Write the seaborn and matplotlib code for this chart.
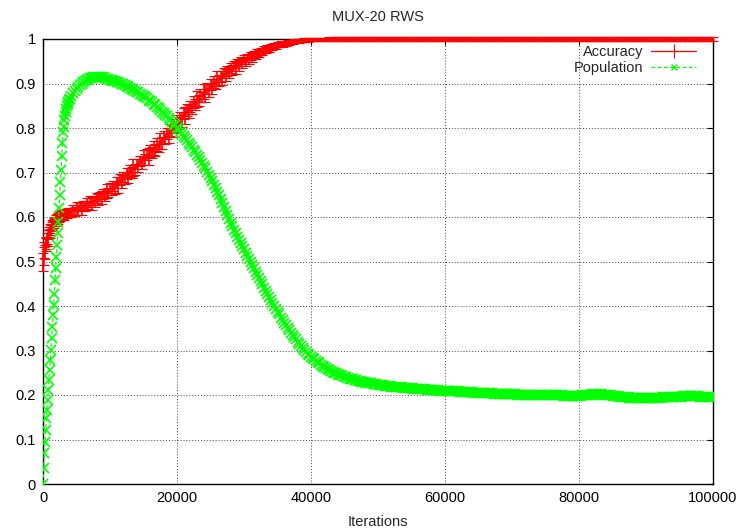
import numpy as np
import pandas as pd
import matplotlib
matplotlib.use("Agg")
import matplotlib.pyplot as plt
import seaborn as sns
from matplotlib.lines import Line2D

# ---------------- data ----------------
# iterations 0..4000 every 100, then 4250..100000 every 250
iter_early = list(range(0, 4001, 100))
iter_late = list(range(4250, 100001, 250))
iterations = iter_early + iter_late

pop_early = [0.000, 0.035, 0.069, 0.095, 0.121, 0.148, 0.166, 0.189, 0.211, 0.234,
             0.256, 0.279, 0.301, 0.328, 0.353, 0.380, 0.402, 0.428, 0.458, 0.485,
             0.511, 0.537, 0.563, 0.589, 0.620, 0.649, 0.679, 0.705, 0.737, 0.766,
             0.792, 0.803, 0.818, 0.828, 0.836, 0.843, 0.849, 0.854, 0.858, 0.862, 0.866]
pop_late = [
    0.872, 0.878, 0.883, 0.888, 0.892, 0.896, 0.900, 0.903,   # 4250-6000
    0.906, 0.908, 0.910, 0.912, 0.913, 0.914, 0.915, 0.915,   # 6250-8000
    0.915, 0.915, 0.915, 0.914, 0.913, 0.911, 0.910, 0.908,   # 8250-10000
    0.907, 0.906, 0.905, 0.904, 0.903, 0.901, 0.900, 0.898,   # 10250-12000
    0.896, 0.894, 0.892, 0.890, 0.888, 0.886, 0.884, 0.882,   # 12250-14000
    0.880, 0.877, 0.875, 0.872, 0.870, 0.867, 0.864, 0.861,   # 14250-16000
    0.858, 0.855, 0.852, 0.848, 0.845, 0.841, 0.837, 0.833,   # 16250-18000
    0.830, 0.826, 0.822, 0.818, 0.814, 0.810, 0.806, 0.801,   # 18250-20000
    0.797, 0.792, 0.787, 0.782, 0.777, 0.772, 0.767, 0.762,   # 20250-22000
    0.757, 0.751, 0.746, 0.740, 0.734, 0.728, 0.722, 0.715,   # 22250-24000
    0.709, 0.702, 0.695, 0.688, 0.681, 0.673, 0.665, 0.657,   # 24250-26000
    0.649, 0.640, 0.631, 0.622, 0.613, 0.604, 0.596, 0.587,   # 26250-28000
    0.579, 0.571, 0.564, 0.556, 0.549, 0.541, 0.534, 0.527,   # 28250-30000
    0.520, 0.513, 0.506, 0.499, 0.492, 0.485, 0.477, 0.470,   # 30250-32000
    0.463, 0.456, 0.449, 0.441, 0.434, 0.427, 0.420, 0.413,   # 32250-34000
    0.407, 0.400, 0.394, 0.387, 0.381, 0.374, 0.368, 0.362,   # 34250-36000
    0.357, 0.351, 0.346, 0.340, 0.335, 0.330, 0.325, 0.320,   # 36250-38000
    0.315, 0.310, 0.306, 0.301, 0.297, 0.293, 0.290, 0.286,   # 38250-40000
    0.283, 0.280, 0.277, 0.274, 0.271, 0.268, 0.266, 0.263,   # 40250-42000
    0.261, 0.258, 0.256, 0.254, 0.252, 0.250, 0.249, 0.247,   # 42250-44000
    0.245, 0.244, 0.243, 0.241, 0.240, 0.238, 0.237, 0.236,   # 44250-46000
    0.235, 0.234, 0.233, 0.232, 0.231, 0.230, 0.230, 0.229,   # 46250-48000
    0.228, 0.227, 0.227, 0.226, 0.225, 0.225, 0.224, 0.223,   # 48250-50000
    0.223, 0.222, 0.222, 0.221, 0.221, 0.220, 0.220, 0.219,   # 50250-52000
    0.219, 0.218, 0.218, 0.217, 0.217, 0.217, 0.216, 0.216,   # 52250-54000
    0.216, 0.215, 0.215, 0.215, 0.214, 0.214, 0.214, 0.214,   # 54250-56000
    0.213, 0.213, 0.213, 0.213, 0.212, 0.212, 0.212, 0.212,   # 56250-58000
    0.211, 0.211, 0.211, 0.211, 0.210, 0.210, 0.210, 0.210,   # 58250-60000
    0.209, 0.209, 0.209, 0.209, 0.208, 0.208, 0.208, 0.208,   # 60250-62000
    0.207, 0.207, 0.207, 0.207, 0.206, 0.206, 0.206, 0.206,   # 62250-64000
    0.205, 0.205, 0.205, 0.205, 0.205, 0.205, 0.204, 0.204,   # 64250-66000
    0.204, 0.204, 0.204, 0.204, 0.203, 0.203, 0.203, 0.203,   # 66250-68000
    0.203, 0.203, 0.202, 0.202, 0.202, 0.202, 0.202, 0.202,   # 68250-70000
    0.202, 0.202, 0.201, 0.201, 0.201, 0.201, 0.201, 0.201,   # 70250-72000
    0.201, 0.201, 0.200, 0.200, 0.200, 0.200, 0.200, 0.200,   # 72250-74000
    0.200, 0.200, 0.200, 0.200, 0.199, 0.199, 0.199, 0.199,   # 74250-76000
    0.199, 0.199, 0.199, 0.199, 0.199, 0.199, 0.198, 0.198,   # 76250-78000
    0.198, 0.198, 0.198, 0.198, 0.198, 0.198, 0.198, 0.198,   # 78250-80000
    0.198, 0.199, 0.199, 0.200, 0.200, 0.201, 0.201, 0.202,   # 80250-82000
    0.202, 0.202, 0.202, 0.202, 0.202, 0.201, 0.201, 0.200,   # 82250-84000
    0.200, 0.199, 0.199, 0.198, 0.198, 0.197, 0.197, 0.196,   # 84250-86000
    0.196, 0.195, 0.195, 0.195, 0.195, 0.194, 0.194, 0.194,   # 86250-88000
    0.194, 0.194, 0.194, 0.193, 0.193, 0.193, 0.193, 0.193,   # 88250-90000
    0.193, 0.193, 0.193, 0.193, 0.193, 0.194, 0.194, 0.194,   # 90250-92000
    0.194, 0.195, 0.195, 0.195, 0.195, 0.196, 0.196, 0.196,   # 92250-94000
    0.196, 0.196, 0.196, 0.196, 0.196, 0.197, 0.197, 0.197,   # 94250-96000
    0.197, 0.197, 0.197, 0.197, 0.197, 0.197, 0.197, 0.196,   # 96250-98000
    0.196, 0.196, 0.196, 0.196, 0.196, 0.196, 0.196, 0.196,   # 98250-100000
]
population = pop_early + pop_late

acc_early = [0.498, 0.512, 0.525, 0.521, 0.538, 0.541, 0.552, 0.549, 0.561, 0.566,
             0.563, 0.574, 0.571, 0.580, 0.584, 0.579, 0.588, 0.586, 0.592, 0.589,
             0.595, 0.598, 0.594, 0.600, 0.597, 0.603, 0.601, 0.606, 0.602, 0.607,
             0.605, 0.609, 0.604, 0.610, 0.608, 0.611, 0.607, 0.613, 0.610, 0.612, 0.609]
acc_late = [
    0.610, 0.616, 0.613, 0.619, 0.615, 0.622, 0.618, 0.625,   # 4250-6000
    0.624, 0.630, 0.627, 0.635, 0.631, 0.638, 0.635, 0.643,   # 6250-8000
    0.640, 0.647, 0.644, 0.652, 0.649, 0.658, 0.655, 0.665,   # 8250-10000
    0.662, 0.670, 0.667, 0.677, 0.673, 0.684, 0.680, 0.690,   # 10250-12000
    0.688, 0.697, 0.693, 0.704, 0.700, 0.711, 0.707, 0.719,   # 12250-14000
    0.716, 0.726, 0.722, 0.734, 0.729, 0.740, 0.736, 0.748,   # 14250-16000
    0.745, 0.755, 0.751, 0.763, 0.758, 0.770, 0.766, 0.779,   # 16250-18000
    0.776, 0.788, 0.783, 0.796, 0.792, 0.805, 0.801, 0.814,   # 18250-20000
    0.811, 0.823, 0.819, 0.832, 0.828, 0.841, 0.837, 0.849,   # 20250-22000
    0.846, 0.858, 0.853, 0.866, 0.862, 0.873, 0.870, 0.882,   # 22250-24000
    0.879, 0.889, 0.885, 0.897, 0.893, 0.903, 0.899, 0.911,   # 24250-26000
    0.907, 0.916, 0.912, 0.923, 0.919, 0.928, 0.925, 0.934,   # 26250-28000
    0.930, 0.939, 0.935, 0.944, 0.941, 0.949, 0.946, 0.953,   # 28250-30000
    0.950, 0.957, 0.955, 0.962, 0.959, 0.966, 0.963, 0.970,   # 30250-32000
    0.968, 0.973, 0.971, 0.977, 0.975, 0.980, 0.978, 0.983,   # 32250-34000
    0.981, 0.985, 0.983, 0.988, 0.986, 0.990, 0.988, 0.991,   # 34250-36000
    0.990, 0.993, 0.992, 0.994, 0.993, 0.995, 0.995, 0.996,   # 36250-38000
    0.996, 0.997, 0.997, 0.998, 0.998, 0.998, 0.999, 0.999,   # 38250-40000
    0.999, 0.999, 0.999, 0.999, 0.999, 0.999, 0.999, 0.999,   # 40250-42000
    0.999, 0.999, 1.000, 0.999, 1.000, 1.000, 1.000, 1.000,   # 42250-44000
    1.000, 1.000, 1.000, 1.000, 1.000, 1.000, 1.000, 1.000,   # 44250-46000
    1.000, 1.000, 1.000, 1.000, 1.000, 1.000, 1.000, 1.000,   # 46250-48000
    1.000, 1.000, 1.000, 1.000, 1.000, 1.000, 1.000, 1.000,   # 48250-50000
    1.000, 1.000, 1.000, 1.000, 1.000, 1.000, 1.000, 1.000,   # 50250-52000
    1.000, 1.000, 1.000, 1.000, 1.000, 1.000, 1.000, 1.000,   # 52250-54000
    1.000, 1.000, 1.000, 1.000, 1.000, 1.000, 1.000, 1.000,   # 54250-56000
    1.000, 1.000, 1.000, 1.000, 1.000, 1.000, 1.000, 1.000,   # 56250-58000
    1.000, 1.000, 1.000, 1.000, 1.000, 1.000, 1.000, 1.000,   # 58250-60000
    1.000, 1.000, 1.000, 1.000, 1.000, 1.000, 1.000, 1.000,   # 60250-62000
    1.000, 1.000, 1.000, 1.000, 1.000, 1.000, 1.000, 1.000,   # 62250-64000
    1.000, 1.000, 1.000, 1.000, 1.000, 1.000, 1.000, 1.000,   # 64250-66000
    1.000, 1.000, 1.000, 1.000, 1.000, 1.000, 1.000, 1.000,   # 66250-68000
    1.000, 1.000, 1.000, 1.000, 1.000, 1.000, 1.000, 1.000,   # 68250-70000
    1.000, 1.000, 1.000, 1.000, 1.000, 1.000, 1.000, 1.000,   # 70250-72000
    1.000, 1.000, 1.000, 1.000, 1.000, 1.000, 1.000, 1.000,   # 72250-74000
    1.000, 1.000, 1.000, 1.000, 1.000, 1.000, 1.000, 1.000,   # 74250-76000
    1.000, 1.000, 1.000, 1.000, 1.000, 1.000, 1.000, 1.000,   # 76250-78000
    1.000, 1.000, 1.000, 1.000, 1.000, 1.000, 1.000, 1.000,   # 78250-80000
    1.000, 1.000, 1.000, 1.000, 1.000, 1.000, 1.000, 1.000,   # 80250-82000
    1.000, 1.000, 1.000, 1.000, 1.000, 1.000, 1.000, 1.000,   # 82250-84000
    1.000, 1.000, 1.000, 1.000, 1.000, 1.000, 1.000, 1.000,   # 84250-86000
    1.000, 1.000, 1.000, 1.000, 1.000, 1.000, 1.000, 1.000,   # 86250-88000
    1.000, 1.000, 1.000, 1.000, 1.000, 1.000, 1.000, 1.000,   # 88250-90000
    1.000, 1.000, 1.000, 1.000, 1.000, 1.000, 1.000, 1.000,   # 90250-92000
    1.000, 1.000, 1.000, 1.000, 1.000, 1.000, 1.000, 1.000,   # 92250-94000
    1.000, 1.000, 1.000, 1.000, 1.000, 1.000, 1.000, 1.000,   # 94250-96000
    1.000, 1.000, 1.000, 1.000, 1.000, 1.000, 1.000, 1.000,   # 96250-98000
    1.000, 1.000, 1.000, 1.000, 1.000, 1.000, 1.000, 1.000,   # 98250-100000
]
accuracy = acc_early + acc_late

err_early = [0.020, 0.020, 0.018, 0.016, 0.015, 0.013, 0.012, 0.014, 0.010, 0.012,
             0.011, 0.010, 0.012, 0.009, 0.010, 0.011, 0.009, 0.010, 0.008, 0.010,
             0.009, 0.008, 0.010, 0.008, 0.009, 0.008, 0.010, 0.007, 0.009, 0.008,
             0.009, 0.007, 0.010, 0.008, 0.009, 0.007, 0.010, 0.008, 0.009, 0.008, 0.009]
err_late = [
    0.009, 0.012, 0.010, 0.014, 0.011, 0.009, 0.013, 0.010,   # 4250-6000
    0.011, 0.013, 0.010, 0.012, 0.015, 0.010, 0.012, 0.011,   # 6250-8000
    0.012, 0.010, 0.014, 0.011, 0.013, 0.016, 0.011, 0.012,   # 8250-10000
    0.013, 0.011, 0.015, 0.012, 0.018, 0.012, 0.014, 0.011,   # 10250-12000
    0.014, 0.012, 0.016, 0.013, 0.012, 0.019, 0.013, 0.012,   # 12250-14000
    0.015, 0.012, 0.014, 0.017, 0.012, 0.013, 0.020, 0.013,   # 14250-16000
    0.012, 0.016, 0.013, 0.014, 0.012, 0.018, 0.013, 0.015,   # 16250-18000
    0.013, 0.012, 0.017, 0.014, 0.012, 0.015, 0.013, 0.016,   # 18250-20000
    0.014, 0.013, 0.016, 0.012, 0.019, 0.013, 0.014, 0.012,   # 20250-22000
    0.015, 0.013, 0.012, 0.018, 0.013, 0.015, 0.012, 0.016,   # 22250-24000
    0.020, 0.013, 0.015, 0.012, 0.017, 0.014, 0.012, 0.016,   # 24250-26000
    0.013, 0.012, 0.015, 0.011, 0.014, 0.012, 0.013, 0.011,   # 26250-28000
    0.012, 0.011, 0.013, 0.010, 0.012, 0.010, 0.011, 0.010,   # 28250-30000
    0.010, 0.009, 0.011, 0.009, 0.010, 0.008, 0.009, 0.008,   # 30250-32000
    0.008, 0.007, 0.008, 0.007, 0.007, 0.006, 0.007, 0.006,   # 32250-34000
    0.006, 0.006, 0.005, 0.006, 0.005, 0.005, 0.005, 0.005,   # 34250-36000
    0.005, 0.004, 0.005, 0.004, 0.004, 0.004, 0.004, 0.004,   # 36250-38000
    0.004, 0.004, 0.004, 0.004, 0.004, 0.004, 0.004, 0.004,   # 38250-40000
    0.004, 0.004, 0.004, 0.004, 0.004, 0.004, 0.004, 0.004,   # 40250-42000
    0.004, 0.004, 0.004, 0.004, 0.004, 0.004, 0.004, 0.004,   # 42250-44000
    0.004, 0.004, 0.004, 0.004, 0.004, 0.004, 0.004, 0.004,   # 44250-46000
    0.004, 0.004, 0.004, 0.004, 0.004, 0.004, 0.004, 0.004,   # 46250-48000
    0.004, 0.004, 0.004, 0.004, 0.004, 0.004, 0.004, 0.004,   # 48250-50000
    0.004, 0.004, 0.004, 0.004, 0.004, 0.004, 0.004, 0.004,   # 50250-52000
    0.004, 0.004, 0.004, 0.004, 0.004, 0.004, 0.004, 0.004,   # 52250-54000
    0.004, 0.004, 0.004, 0.004, 0.004, 0.004, 0.004, 0.004,   # 54250-56000
    0.004, 0.004, 0.004, 0.004, 0.004, 0.004, 0.004, 0.004,   # 56250-58000
    0.004, 0.004, 0.004, 0.004, 0.004, 0.004, 0.004, 0.004,   # 58250-60000
    0.004, 0.004, 0.004, 0.004, 0.004, 0.004, 0.004, 0.004,   # 60250-62000
    0.004, 0.004, 0.004, 0.004, 0.004, 0.004, 0.004, 0.004,   # 62250-64000
    0.004, 0.004, 0.004, 0.004, 0.004, 0.004, 0.004, 0.004,   # 64250-66000
    0.004, 0.004, 0.004, 0.004, 0.004, 0.004, 0.004, 0.004,   # 66250-68000
    0.004, 0.004, 0.004, 0.004, 0.004, 0.004, 0.004, 0.004,   # 68250-70000
    0.004, 0.004, 0.004, 0.004, 0.004, 0.004, 0.004, 0.004,   # 70250-72000
    0.004, 0.004, 0.004, 0.004, 0.004, 0.004, 0.004, 0.004,   # 72250-74000
    0.004, 0.004, 0.004, 0.004, 0.004, 0.004, 0.004, 0.004,   # 74250-76000
    0.004, 0.004, 0.004, 0.004, 0.004, 0.004, 0.004, 0.004,   # 76250-78000
    0.004, 0.004, 0.004, 0.004, 0.004, 0.004, 0.004, 0.004,   # 78250-80000
    0.004, 0.004, 0.004, 0.004, 0.004, 0.004, 0.004, 0.004,   # 80250-82000
    0.004, 0.004, 0.004, 0.004, 0.004, 0.004, 0.004, 0.004,   # 82250-84000
    0.004, 0.004, 0.004, 0.004, 0.004, 0.004, 0.004, 0.004,   # 84250-86000
    0.004, 0.004, 0.004, 0.004, 0.004, 0.004, 0.004, 0.004,   # 86250-88000
    0.004, 0.004, 0.004, 0.004, 0.004, 0.004, 0.004, 0.004,   # 88250-90000
    0.004, 0.004, 0.004, 0.004, 0.004, 0.004, 0.004, 0.004,   # 90250-92000
    0.004, 0.004, 0.004, 0.004, 0.004, 0.004, 0.004, 0.004,   # 92250-94000
    0.004, 0.004, 0.004, 0.004, 0.004, 0.004, 0.004, 0.004,   # 94250-96000
    0.004, 0.004, 0.004, 0.004, 0.004, 0.004, 0.004, 0.004,   # 96250-98000
    0.004, 0.004, 0.004, 0.004, 0.004, 0.004, 0.004, 0.004,   # 98250-100000
]
acc_err = err_early + err_late

x_ticks = [0, 20000, 40000, 60000, 80000, 100000]
y_ticks = [0, 0.1, 0.2, 0.3, 0.4, 0.5, 0.6, 0.7, 0.8, 0.9, 1]

df = pd.DataFrame({"Iterations": iterations, "Accuracy": accuracy,
                   "Population": population, "err": acc_err})

# ---------------- style ----------------
sns.set_style("white")
plt.rcParams["font.family"] = ["Liberation Sans", "DejaVu Sans"]
FS = 10.5

fig = plt.figure(figsize=(7.41, 5.32), dpi=100)
ax = fig.add_axes([43 / 741, 48 / 532, 670 / 741, 445 / 532])

RED = "#ff0000"
GREEN = "#00ff00"

# accuracy: line + error bars
ax.errorbar(df["Iterations"], df["Accuracy"], yerr=df["err"], fmt="none",
            ecolor=RED, elinewidth=1.2, capsize=3.5, capthick=0.8, zorder=3,
            clip_on=False)
sns.lineplot(data=df, x="Iterations", y="Accuracy", ax=ax, color=RED,
             linewidth=1.1, zorder=4, legend=False)

# population: dashed line with x markers
sns.lineplot(data=df, x="Iterations", y="Population", ax=ax, color=GREEN,
             linewidth=0.9, linestyle=(0, (3, 2)), marker="x", markersize=6.8,
             markeredgewidth=1.2, markeredgecolor=GREEN, zorder=5, legend=False)

ax.set_xlim(0, 100000)
ax.set_ylim(0, 1)
ax.set_xticks(x_ticks)
ax.set_yticks(y_ticks)
ax.set_xticklabels([f"{v:g}" for v in x_ticks])
ax.set_yticklabels([f"{v:g}" for v in y_ticks])

ax.set_axisbelow(True)
ax.grid(True, color="#444444", linestyle=(0, (1, 2)), linewidth=0.7)
for s in ax.spines.values():
    s.set_color("black")
    s.set_linewidth(1.0)
    s.set_zorder(2)

ax.tick_params(direction="in", top=True, right=True, length=4, width=0.8,
               labelsize=FS, pad=5, colors="black")
ax.set_xlabel("Iterations", fontsize=FS, labelpad=7)
ax.set_ylabel("")
ax.set_title("MUX-20 RWS", fontsize=FS, pad=13)

# legend (gnuplot style: text then sample)
acc_handle = ax.errorbar([], [], yerr=[], color=RED, ecolor=RED, linewidth=0.9,
                         elinewidth=0.8, capsize=4)
pop_handle = Line2D([], [], color=GREEN, linewidth=0.9, linestyle=(0, (3, 2)),
                    marker="x", markersize=5, markeredgewidth=1.0)
leg = ax.legend([acc_handle, pop_handle], ["Accuracy", "Population"],
                loc="upper right", bbox_to_anchor=(0.975, 0.986), frameon=False,
                markerfirst=False, handlelength=3.1, handletextpad=0.55,
                labelspacing=0.12, fontsize=FS, borderpad=0.0,
                borderaxespad=0.0)

fig.savefig("out.png", dpi=100)
